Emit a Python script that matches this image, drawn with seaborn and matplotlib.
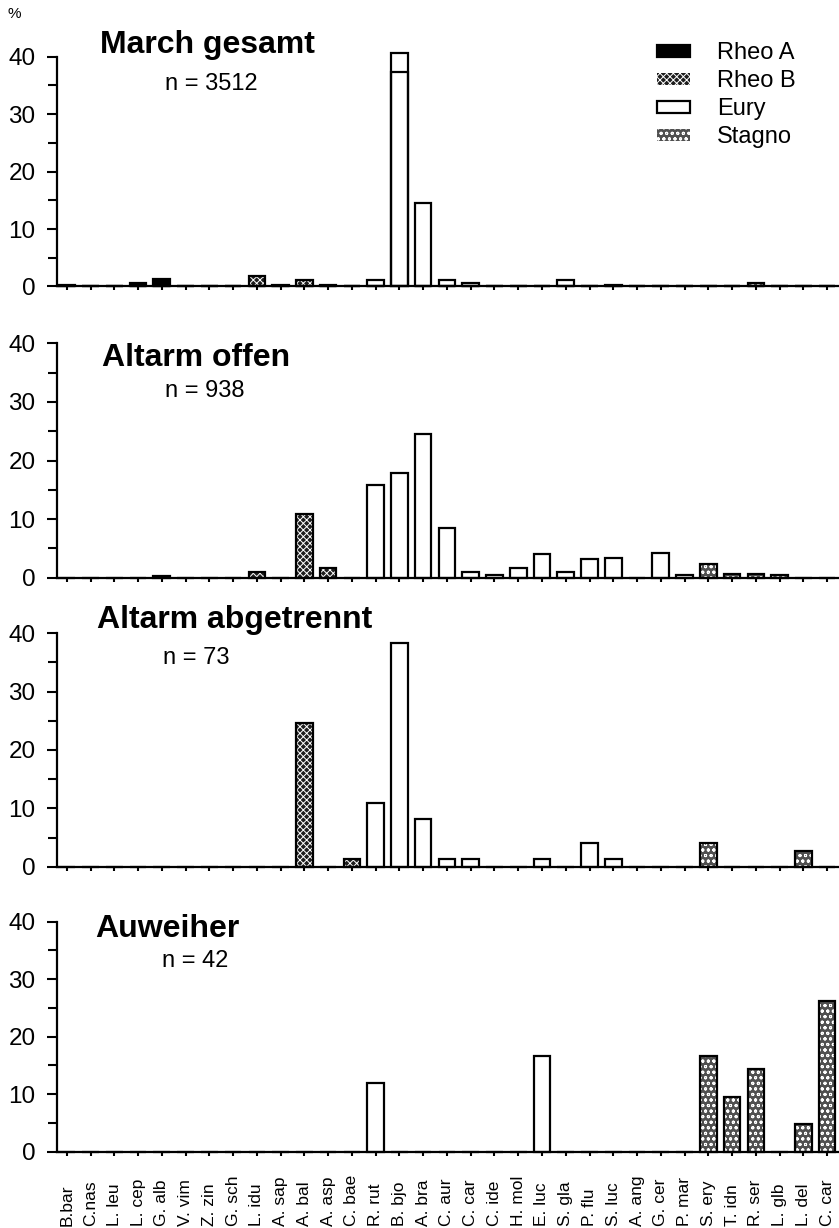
import matplotlib
matplotlib.use("Agg")
import numpy as np
import pandas as pd
import matplotlib.pyplot as plt
import seaborn as sns
from matplotlib.patches import Patch
from matplotlib.transforms import blended_transform_factory

# species on the x axis (C. car appears twice: Cyprinus carpio / Carassius carassius)
species = ["B.bar", "C.nas", "L. leu", "L. cep", "G. alb", "V. vim", "Z. zin", "G. sch",
           "L. idu", "A. sap", "A. bal", "A. asp", "C. bae",
           "R. rut", "B. bjo", "A. bra", "C. aur", "C. car", "C. ide", "H. mol", "E. luc",
           "S. gla", "P. flu", "S. luc", "A. ang", "G. cer", "P. mar",
           "S. ery", "T. idn", "R. ser", "L. glb", "L. del", "C. car"]

guild = ["Rheo A", "Rheo A", "Rheo A", "Rheo A", "Rheo A", "Rheo A", "Rheo A", "Rheo A",
         "Rheo B", "Rheo B", "Rheo B", "Rheo B", "Rheo B",
         "Eury", "Eury", "Eury", "Eury", "Eury", "Eury", "Eury", "Eury",
         "Eury", "Eury", "Eury", "Eury", "Eury", "Eury",
         "Stagno", "Stagno", "Stagno", "Stagno", "Stagno", "Stagno"]

# percentages per site
march = [0.2, 0, 0, 0.6, 1.3, 0, 0, 0,
         1.8, 0.2, 1.1, 0.3, 0,
         1.1, 40.6, 14.5, 1.2, 0.6, 0, 0, 0,
         1.2, 0, 0.3, 0, 0, 0,
         0, 0, 0.6, 0, 0, 0]
# B. bjo bar in "March gesamt" is split into two parts
march_split = [0, 0, 0, 0, 0, 0, 0, 0,
               0, 0, 0, 0, 0,
               0, 37.4, 0, 0, 0, 0, 0, 0,
               0, 0, 0, 0, 0, 0,
               0, 0, 0, 0, 0, 0]
offen = [0, 0, 0, 0, 0.3, 0, 0, 0,
         0.9, 0, 10.8, 1.6, 0,
         15.8, 17.8, 24.5, 8.4, 1.0, 0.4, 1.6, 4.1,
         0.9, 3.2, 3.3, 0, 4.3, 0.4,
         2.3, 0.7, 0.6, 0.4, 0, 0]
abgetrennt = [0, 0, 0, 0, 0, 0, 0, 0,
              0, 0, 24.7, 0, 1.4,
              11.0, 38.4, 8.2, 1.4, 1.4, 0, 0, 1.4,
              0, 4.1, 1.4, 0, 0, 0,
              4.1, 0, 0, 0, 2.7, 0]
auweiher = [0, 0, 0, 0, 0, 0, 0, 0,
            0, 0, 0, 0, 0,
            11.9, 0, 0, 0, 0, 0, 0, 16.7,
            0, 0, 0, 0, 0, 0,
            16.7, 9.5, 14.3, 0, 4.8, 26.2]

panels = [("March gesamt", "n = 3512", march),
          ("Altarm offen", "n = 938", offen),
          ("Altarm abgetrennt", "n = 73", abgetrennt),
          ("Auweiher", "n = 42", auweiher)]

# fill styles for the four guilds: (facecolor, hatch)
styles = {"Rheo A": ("black", None),
          "Rheo B": ("#1e1e1e", "xxxxx"),
          "Eury": ("white", None),
          "Stagno": ("#505050", "ooo")}

sns.set_style("ticks")
plt.rcParams["font.family"] = ["Liberation Sans", "DejaVu Sans"]
plt.rcParams["hatch.linewidth"] = 0.7
for key in ["text.color", "axes.labelcolor", "xtick.color", "ytick.color", "axes.edgecolor"]:
    plt.rcParams[key] = "black"

W, H = 839, 1228
fig = plt.figure(figsize=(W / 100, H / 100), dpi=100)

# (y of 0, y of 40) in pixels for each panel
rows = [(286.5, 56.7), (577.7, 343.3), (866.7, 633.3), (1151.7, 921.7)]
title_pos = [(100, 53, 165, 90), (102, 366, 165, 397), (97, 628, 163, 664), (95, 937, 162, 967)]
x0 = 57
pos = list(range(len(species)))

for k, (title, ntext, vals) in enumerate(panels):
    y0, y40 = rows[k]
    ax = fig.add_axes([x0 / W, 1 - y0 / H, (W - x0) / W, (y0 - y40) / H])
    df = pd.DataFrame({"pos": pos, "value": vals, "guild": guild})

    # filled / hatched layer
    sns.barplot(data=df, x="pos", y="value", order=pos, width=0.7, color="white",
                saturation=1, errorbar=None, ax=ax, linewidth=0)
    for patch, g in zip(ax.patches, guild):
        fc, hatch = styles[g]
        patch.set_facecolor(fc)
        if hatch:
            patch.set_edgecolor("white")
            patch.set_hatch(hatch)
        patch.set_linewidth(0)
        patch.set_clip_on(False)

    # outlines
    n_before = len(ax.patches)
    sns.barplot(data=df, x="pos", y="value", order=pos, width=0.7, fill=False,
                color="black", errorbar=None, ax=ax, linewidth=1.6)
    if k == 0:
        df2 = pd.DataFrame({"pos": pos, "value": march_split})
        sns.barplot(data=df2, x="pos", y="value", order=pos, width=0.7, fill=False,
                    color="black", errorbar=None, ax=ax, linewidth=1.6)
    for patch in ax.patches[n_before:]:
        patch.set_clip_on(False)

    ax.set_xlim(-0.41, 32.5)
    ax.set_ylim(0, 40)
    ax.set_yticks([0, 10, 20, 30, 40])
    ax.set_yticks([5, 15, 25, 35], minor=True)
    ax.set_xticks(pos)
    ax.set_xticklabels([])
    ax.set_xlabel("")
    ax.set_ylabel("")
    sns.despine(ax=ax)
    for s in ["left", "bottom"]:
        ax.spines[s].set_linewidth(1.6)
    ax.tick_params(axis="y", which="major", length=7.5, width=1.5, pad=8, labelsize=17.5)
    ax.tick_params(axis="y", which="minor", length=6.5, width=1.5)
    ax.tick_params(axis="x", length=3, width=1.5)

    tx, ty, nx, ny = title_pos[k]
    fig.text(tx / W, 1 - ty / H, title, fontsize=23, fontweight="bold", va="baseline")
    fig.text(nx / W, 1 - ny / H, ntext, fontsize=17, va="baseline")

    if k == 0:
        handles = []
        for g in ["Rheo A", "Rheo B", "Eury", "Stagno"]:
            fc, hatch = styles[g]
            if hatch:
                handles.append(Patch(facecolor=fc, edgecolor="white", hatch=hatch, linewidth=0, label=g))
            else:
                handles.append(Patch(facecolor=fc, edgecolor="black", linewidth=1.6, label=g))
        ax.legend(handles=handles, loc="upper left", bbox_to_anchor=(657 / W, 1 - 42 / H),
                  bbox_transform=fig.transFigure, frameon=False, fontsize=17,
                  handlelength=1.4, handleheight=0.4, handletextpad=1.15,
                  labelspacing=0.26, borderpad=0, borderaxespad=0)

    if k == 3:
        trans = blended_transform_factory(ax.transData, fig.transFigure)
        for i, name in enumerate(species):
            ax.text(i, 2 / H, name, rotation=90, ha="center", va="bottom",
                    fontsize=12.5, transform=trans, clip_on=False)

fig.text(8 / W, 1 - 18 / H, "%", fontsize=11, va="baseline")

fig.savefig("out.png", dpi=100)
